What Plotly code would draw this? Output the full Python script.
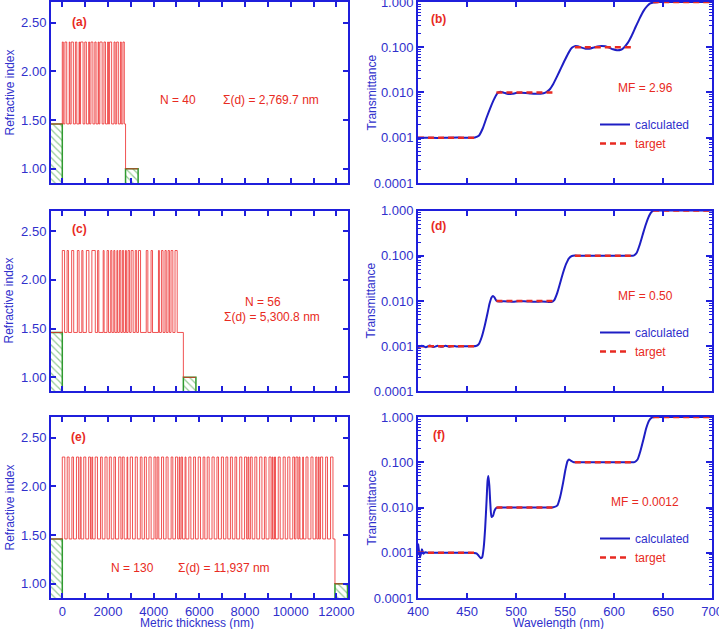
import plotly.graph_objects as go

W, H = 719, 629

# ---------------- data ----------------
n_H = 2.30      # high index
n_L = 1.46      # low index
n_sub = 1.46    # substrate index
n_air = 1.00    # exit medium index
medium_len = 550  # drawn length of substrate / air blocks (nm)

# layer thicknesses (nm), H/L alternating, starting from the substrate with H
d_a = [45, 70, 80, 110, 30, 55, 95, 90, 60, 100, 25, 40, 110, 75, 70, 100, 40, 60, 85, 85,
       55, 90, 30, 45, 100, 80, 65, 95, 35, 50, 90, 105, 50, 65, 75, 90, 40, 70, 60, 54.7]

d_c_H = [100, 60, 90, 75, 50, 110, 150, 55, 40, 65, 50, 45, 35, 60, 55, 40, 65, 85, 60, 90,
         70, 65, 40, 70, 55, 60, 80, 95]
d_c_L = [110, 140, 160, 120, 150, 130, 100, 190.8, 130, 95, 85, 90, 75, 70, 80, 75, 70, 95, 80, 250,
         140, 260, 90, 85, 80, 70, 95, 270]

d_e_H = [110, 85, 70, 95, 40, 90, 80, 35, 100, 75,
         90, 85, 70, 95, 80, 30, 100, 90, 75, 85,
         95, 80, 70, 90, 85, 75, 95, 30, 60, 40,
         90, 80, 100, 75, 85, 95, 70, 90, 80, 85,
         75, 95, 90, 35, 80, 85, 100, 70, 90, 30,
         45, 85, 90, 95, 75, 80, 40, 30, 85, 90,
         50, 35, 95, 80, 105]
d_e_L = [105, 120, 130, 70, 115, 125, 60, 110, 135, 120,
         100, 115, 140, 65, 125, 110, 120, 130, 105, 115,
         125, 60, 120, 110, 135, 115, 70, 55, 110, 125,
         120, 120, 115, 105, 125, 120, 125, 110, 115, 115,
         130, 120, 60, 70, 115, 125, 110, 130, 55, 65,
         120, 130, 110, 125, 65, 55, 120, 115, 130, 120,
         65, 60, 130, 135, 87]

labels_left = ["(a)", "(c)", "(e)"]
n_text = ["N = 40", "N = 56", "N = 130"]
sum_text = ["\u03a3(d) = 2,769.7 nm", "\u03a3(d) = 5,300.8 nm", "\u03a3(d) = 11,937 nm"]

# transmittance (calculated)
wl_b = [400, 410, 420, 430, 440, 450, 458, 462, 466, 470, 474, 478, 481, 484, 488, 492, 496, 500,
        505, 510, 515, 520, 525, 530, 534, 538, 542, 546, 550, 554, 557, 560, 563, 567, 571, 575,
        579, 583, 587, 591, 595, 599, 603, 607, 610, 614, 618, 622, 626, 630, 634, 637, 640, 645,
        650, 660, 670, 680, 690, 700]
T_b = [0.00100, 0.00100, 0.00099, 0.00100, 0.00101, 0.00100, 0.00101, 0.00110, 0.00160, 0.00280,
       0.00470, 0.00740, 0.00960, 0.01040, 0.00980, 0.00930, 0.00935, 0.00970, 0.00990, 0.00975,
       0.00950, 0.00935, 0.00940, 0.00990, 0.01150, 0.01550, 0.02300, 0.03500, 0.05300, 0.07800,
       0.09700, 0.10600, 0.10500, 0.09800, 0.09300, 0.09300, 0.09800, 0.10400, 0.10700, 0.10500,
       0.09800, 0.09000, 0.08600, 0.08800, 0.09800, 0.12500, 0.18000, 0.28000, 0.43000, 0.63000,
       0.82000, 0.93000, 0.98000, 0.99500, 1.0, 0.998, 1.0, 0.999, 1.0, 1.0]

wl_d = [400, 404, 408, 412, 416, 420, 424, 428, 432, 436, 440, 445, 450, 455, 459, 462, 465, 468,
        471, 473, 475, 476.5, 478, 480, 483, 487, 492, 497, 502, 508, 514, 520, 526, 532, 536, 539,
        542, 545, 548, 551, 554, 557, 560, 565, 575, 585, 595, 605, 615, 620, 623, 626, 629, 632,
        635, 638, 641, 645, 660, 680, 700]
T_d = [0.00095, 0.00103, 0.00095, 0.00104, 0.00096, 0.00103, 0.00097, 0.00102, 0.00098, 0.00101,
       0.00099, 0.00100, 0.00100, 0.00100, 0.00101, 0.00112, 0.00160, 0.00280, 0.00550, 0.00880,
       0.01200, 0.01290, 0.01200, 0.01020, 0.00970, 0.00990, 0.00980, 0.00960, 0.00985, 0.00990,
       0.00970, 0.00960, 0.00975, 0.00960, 0.00950, 0.01050, 0.01500, 0.02500, 0.04200, 0.06500,
       0.08800, 0.09900, 0.10100, 0.10000, 0.09950, 0.10000, 0.10050, 0.10000, 0.09950, 0.10100,
       0.11500, 0.17000, 0.28000, 0.46000, 0.70000, 0.92000, 0.99500, 1.0, 1.0, 1.0, 1.0]

wl_f = [400, 401, 402, 403, 404, 405.5, 407, 410, 420, 430, 440, 450, 457, 460, 462, 464, 465.5,
        467, 468.5, 470, 471, 471.8, 472.8, 473.8, 475, 476.5, 478, 480, 483, 490, 500, 510, 520,
        530, 538, 542, 545, 548, 550.5, 552.5, 554, 556, 559, 565, 580, 600, 615, 621, 624, 627,
        630, 633, 636, 639, 642, 660, 680, 700]
T_f = [0.00160, 0.00110, 0.00080, 0.00095, 0.00120, 0.00095, 0.00102, 0.00100, 0.00100, 0.00100,
       0.00100, 0.00100, 0.00099, 0.00096, 0.00085, 0.00076, 0.00080, 0.00130, 0.00350, 0.01500,
       0.04000, 0.05000, 0.03000, 0.01200, 0.00620, 0.00650, 0.00850, 0.00980, 0.01000, 0.01000,
       0.01000, 0.01000, 0.01000, 0.01000, 0.01010, 0.01100, 0.01700, 0.03500, 0.07000, 0.10500,
       0.11500, 0.10800, 0.10000, 0.10000, 0.10000, 0.10000, 0.10000, 0.10100, 0.11500, 0.18000,
       0.32000, 0.58000, 0.85000, 0.98000, 1.0, 1.0, 1.0, 1.0]

# target transmittance (plateaus)
target_wl = [400, 460, None, 480, 540, None, 560, 620, None, 640, 700]
target_T = [0.001, 0.001, None, 0.01, 0.01, None, 0.1, 0.1, None, 1.0, 1.0]

labels_right = ["(b)", "(d)", "(f)"]
mf_text = ["MF = 2.96", "MF = 0.50", "MF = 0.0012"]

ytick_vals_n = [1.0, 1.5, 2.0, 2.5]
ytick_text_n = ["1.00", "1.50", "2.00", "2.50"]
ytick_vals_T = [0.0001, 0.001, 0.01, 0.1, 1.0]
ytick_text_T = ["0.0001", "0.001", "0.010", "0.100", "1.000"]
minor_T = [m * 10.0 ** e for e in range(-4, 0) for m in range(2, 10)]

# ---------------- styling ----------------
AX = "#1f1fdc"
LAB = "#3030cc"
RED = "#e82a22"
GREEN = "#2f9a2f"
BLUE_LINE = "#1e1ec4"
FONT = "Liberation Sans, Arial, Helvetica, sans-serif"


def px(x):
    return x / W


def py(y):
    return 1 - y / H


def interleave(h, l):
    out = []
    for a, b in zip(h, l):
        out += [a, b]
    return out


d_c = interleave(d_c_H, d_c_L)
d_e = interleave(d_e_H, d_e_L)


def profile(d):
    xs = [-medium_len, 0.0]
    ys = [n_sub]
    pos = 0.0
    for i, t in enumerate(d):
        ys.append(n_H if i % 2 == 0 else n_L)
        pos += t
        xs.append(pos)
    ys.append(n_air)
    xs.append(pos + medium_len)
    ys.append(n_air)
    return xs, ys, pos


YMIN_N, YMAX_N = 0.855, 2.71
ybot = 0.80

fig = go.Figure()

left_axes = [("x", "y"), ("x3", "y3"), ("x5", "y5")]
right_axes = [("x2", "y2"), ("x4", "y4"), ("x6", "y6")]

for (xa, ya), d in zip(left_axes, [d_a, d_c, d_e]):
    xs, ys, total = profile(d)
    pat = dict(shape="\\", fgcolor=GREEN, bgcolor="white", size=5, solidity=0.25)
    fig.add_trace(go.Scatter(x=[-medium_len, 0, 0, -medium_len, -medium_len],
                             y=[ybot, ybot, n_sub, n_sub, ybot], fill="toself",
                             fillpattern=pat, mode="lines", line=dict(color=GREEN, width=1.5),
                             xaxis=xa, yaxis=ya, showlegend=False, hoverinfo="skip"))
    fig.add_trace(go.Scatter(x=[total, total + medium_len, total + medium_len, total, total],
                             y=[ybot, ybot, n_air, n_air, ybot], fill="toself",
                             fillpattern=pat, mode="lines", line=dict(color=GREEN, width=1.5),
                             xaxis=xa, yaxis=ya, showlegend=False, hoverinfo="skip"))
    fig.add_trace(go.Scatter(x=xs, y=ys, mode="lines",
                             line=dict(color="rgba(236,40,40,0.8)", width=1, shape="hv"),
                             xaxis=xa, yaxis=ya, showlegend=False))

legends = ["legend", "legend2", "legend3"]
for (xa, ya), wl, T, lg in zip(right_axes, [wl_b, wl_d, wl_f], [T_b, T_d, T_f], legends):
    fig.add_trace(go.Scatter(x=wl, y=T, mode="lines", name="calculated",
                             line=dict(color=BLUE_LINE, width=2, shape="spline", smoothing=0.6),
                             xaxis=xa, yaxis=ya, legend=lg))
    fig.add_trace(go.Scatter(x=target_wl, y=target_T, mode="lines",
                             name='<span style="color:%s">target</span>' % RED,
                             line=dict(color=RED, width=2.5, dash="6px,4px"),
                             xaxis=xa, yaxis=ya, legend=lg))

common = dict(showline=True, linecolor=AX, linewidth=2, mirror="ticks", ticks="inside",
              tickcolor=AX, tickwidth=1.5, ticklen=5, showgrid=False, zeroline=False,
              automargin=False, ticklabeloverflow="allow",
              tickfont=dict(family=FONT, size=13, color=LAB))

xl = [0.0709, 0.4840]
xr = [0.5814, 0.9903]
rows = [[0.7091, 0.9968], [0.3776, 0.6653], [0.0493, 0.3370]]

lay = dict(width=W, height=H, autosize=False, margin=dict(l=0, r=0, t=0, b=0, autoexpand=False),
           paper_bgcolor="white", plot_bgcolor="white", font=dict(family=FONT, color=LAB))

for i, ((xa, ya), (xb, yb)) in enumerate(zip(left_axes, right_axes)):
    last = i == 2
    xkey = "xaxis" if xa == "x" else "xaxis" + xa[1:]
    ykey = "yaxis" if ya == "y" else "yaxis" + ya[1:]
    lay[xkey] = dict(common, domain=xl, anchor=ya, range=[-495, 12508], tickmode="linear",
                     tick0=0, dtick=2000, tickformat="d", showticklabels=last,
                     minor=dict(dtick=1000, tick0=0, ticks="inside", ticklen=5, tickcolor=AX, tickwidth=1.5))
    lay[ykey] = dict(common, domain=rows[i], anchor=xa, range=[YMIN_N, YMAX_N],
                     tickmode="array", tickvals=ytick_vals_n, ticktext=ytick_text_n)
    xkey2 = "xaxis" + xb[1:]
    ykey2 = "yaxis" + yb[1:]
    lay[xkey2] = dict(common, domain=xr, anchor=yb, range=[400, 700], tickmode="linear",
                      tick0=400, dtick=50, showticklabels=last)
    lay[ykey2] = dict(common, domain=rows[i], anchor=xb, type="log", range=[-4, 0],
                      tickmode="array", tickvals=ytick_vals_T, ticktext=ytick_text_T, ticklen=6,
                      minor=dict(ticks="inside", tickmode="array", tickvals=minor_T, ticklen=3,
                                 tickcolor=AX, tickwidth=1.2))

leg_y = [110, 318, 524]
for lg, yy in zip(legends, leg_y):
    lay[lg] = dict(x=px(595), y=py(yy), xanchor="left", yanchor="top", bgcolor="rgba(0,0,0,0)",
                   font=dict(family=FONT, size=12, color=LAB), tracegroupgap=0)

ann = []


def add(text, x, y, size=12, color=RED, xanchor="center", yanchor="middle", angle=0):
    ann.append(dict(text=text, x=px(x), y=py(y), xref="paper", yref="paper", showarrow=False,
                    xanchor=xanchor, yanchor=yanchor, textangle=angle,
                    font=dict(family=FONT, size=size, color=color)))


# panel labels and texts
add("<b>%s</b>" % labels_left[0], 79, 22)
add("<b>%s</b>" % labels_left[1], 79, 229)
add("<b>%s</b>" % labels_left[2], 78, 437)
add("<b>%s</b>" % labels_right[0], 439, 19)
add("<b>%s</b>" % labels_right[1], 439, 226)
add("<b>%s</b>" % labels_right[2], 439, 435)

add(n_text[0], 178, 100)
add(sum_text[0], 271, 100)
add(n_text[1], 263, 302)
add(sum_text[1], 272, 317)
add(n_text[2], 132, 568)
add(sum_text[2], 224, 568)

add(mf_text[0], 645, 88)
add(mf_text[1], 645, 296)
add(mf_text[2], 645, 502)

# axis titles
for yc in [92.5, 300.5, 507.5]:
    add("Refractive index", 9, yc, size=12, color=LAB, angle=-90)
    add("Transmittance", 371, yc, size=12, color=LAB, angle=-90)
add("Metric thickness (nm)", 197, 614, size=12, color=LAB, yanchor="top")
add("Wavelength (nm)", 558, 614, size=12, color=LAB, yanchor="top")

lay["annotations"] = ann
fig.update_layout(**lay)
fig.write_html("out.html")
